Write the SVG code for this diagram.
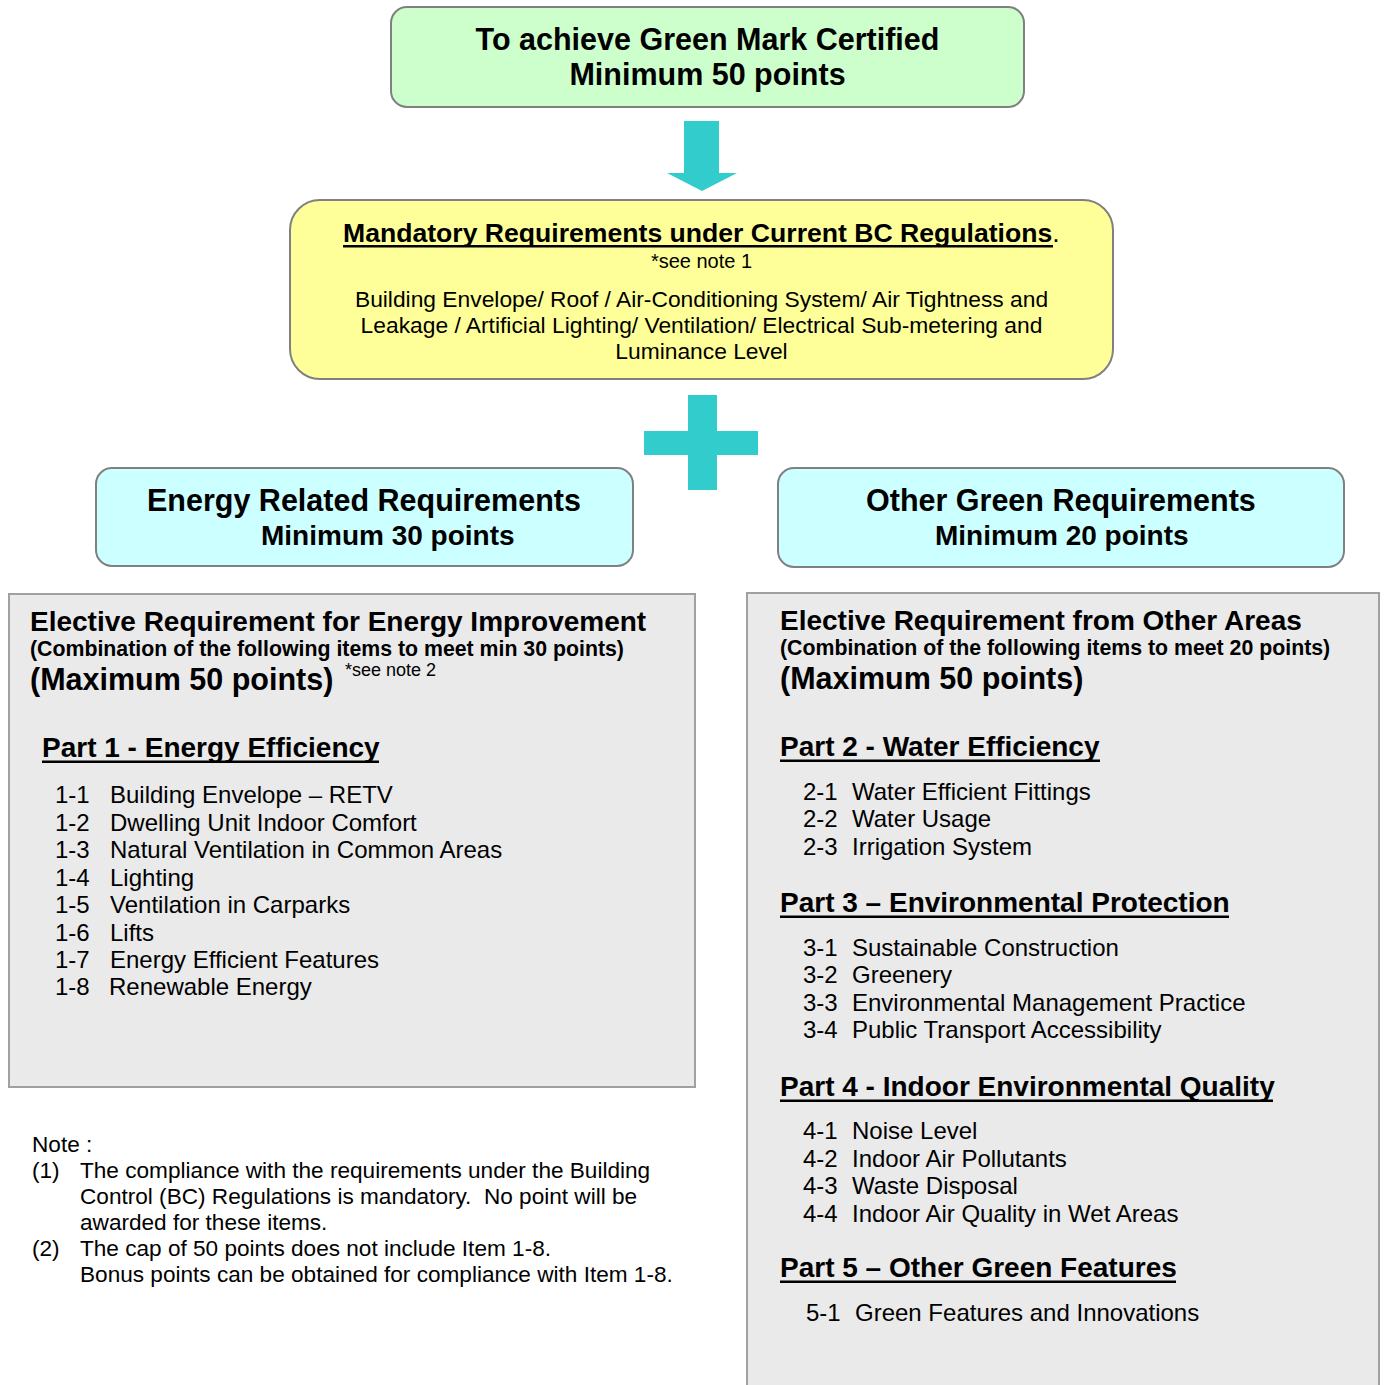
<svg xmlns="http://www.w3.org/2000/svg" width="1384" height="1385" viewBox="0 0 1384 1385">
<style>
  text { font-family: "Liberation Sans", Arial, sans-serif; fill: #000; }
  .b { font-weight: bold; }
  .box { stroke: #808080; stroke-width: 2; }
  .panel { fill: #eaeaea; stroke: #a0a0a0; stroke-width: 2; }
  .ul { fill: #000; }
  .item { font-size: 24px; }
  .part { font-size: 28px; font-weight: bold; }
  .note { font-size: 22.6px; white-space: pre; }
  .mid { text-anchor: middle; }
  .conn { fill: #33cccc; }
</style>
<rect width="1384" height="1385" fill="#ffffff"/>

<g id="goal">
  <rect class="box" x="391" y="7" width="633" height="100" rx="16" fill="#ccffcc"/>
  <text class="b mid" x="707.5" y="50" font-size="30.5">To achieve Green Mark Certified</text>
  <text class="b mid" x="707.5" y="85" font-size="30.5">Minimum 50 points</text>
</g>

<g id="connectors">
  <polygon class="conn" points="684,121 719,121 719,173 737,173 702,191 667,173 684,173"/>
  <rect class="conn" x="688" y="395" width="29" height="95"/>
  <rect class="conn" x="644" y="431" width="114" height="24"/>
</g>

<g id="mandatory">
  <rect class="box" x="290" y="200" width="823" height="179" rx="30" fill="#ffff99"/>
  <text x="343" y="242" font-size="26.6"><tspan class="b">Mandatory Requirements under Current BC Regulations</tspan><tspan>.</tspan></text>
  <rect class="ul" x="343" y="245" width="710" height="2.5"/>
  <text class="mid" x="701.5" y="268" font-size="20">*see note 1</text>
  <text class="mid" x="701.5" y="307" font-size="22.8">Building Envelope/ Roof / Air-Conditioning System/ Air Tightness and</text>
  <text class="mid" x="701.5" y="333" font-size="22.8">Leakage / Artificial Lighting/ Ventilation/ Electrical Sub-metering and</text>
  <text class="mid" x="701.5" y="359" font-size="22.8">Luminance Level</text>
</g>

<g id="energy-req">
  <rect class="box" x="96" y="468" width="537" height="98" rx="16" fill="#ccffff"/>
  <text class="b" x="147" y="511" font-size="30.5">Energy Related Requirements</text>
  <text class="b" x="261" y="545" font-size="28">Minimum 30 points</text>
</g>

<g id="other-req">
  <rect class="box" x="778" y="468" width="566" height="99" rx="16" fill="#ccffff"/>
  <text class="b" x="866" y="511" font-size="30.5">Other Green Requirements</text>
  <text class="b" x="935" y="545" font-size="28">Minimum 20 points</text>
</g>

<g id="energy-elective">
  <rect class="panel" x="9" y="594" width="686" height="493"/>
  <text class="b" x="30" y="631" font-size="28">Elective Requirement for Energy Improvement</text>
  <text class="b" x="30" y="656" font-size="21.3">(Combination of the following items to meet min 30 points)</text>
  <text class="b" x="30" y="690" font-size="30.5">(Maximum 50 points)</text>
  <text x="345" y="676" font-size="18">*see note 2</text>
  <text class="part" x="42" y="757">Part 1 - Energy Efficiency</text>
  <rect class="ul" x="42" y="760.5" width="337" height="2.5"/>
  <text class="item" x="55" y="803">1-1</text><text class="item" x="110" y="803">Building Envelope – RETV</text>
  <text class="item" x="55" y="831">1-2</text><text class="item" x="110" y="831">Dwelling Unit Indoor Comfort</text>
  <text class="item" x="55" y="858">1-3</text><text class="item" x="110" y="858">Natural Ventilation in Common Areas</text>
  <text class="item" x="55" y="886">1-4</text><text class="item" x="110" y="886">Lighting</text>
  <text class="item" x="55" y="913">1-5</text><text class="item" x="110" y="913">Ventilation in Carparks</text>
  <text class="item" x="55" y="941">1-6</text><text class="item" x="110" y="941">Lifts</text>
  <text class="item" x="55" y="968">1-7</text><text class="item" x="110" y="968">Energy Efficient Features</text>
  <text class="item" x="55" y="995">1-8</text><text class="item" x="109" y="995">Renewable Energy</text>
</g>

<g id="notes">
  <text class="note" x="32" y="1152">Note :</text>
  <text class="note" x="32" y="1178">(1)</text>
  <text class="note" x="80" y="1178">The compliance with the requirements under the Building</text>
  <text class="note" x="80" y="1204">Control (BC) Regulations is mandatory.  No point will be</text>
  <text class="note" x="80" y="1230">awarded for these items.</text>
  <text class="note" x="32" y="1256">(2)</text>
  <text class="note" x="80" y="1256">The cap of 50 points does not include Item 1-8.</text>
  <text class="note" x="80" y="1282">Bonus points can be obtained for compliance with Item 1-8.</text>
</g>

<g id="other-elective">
  <rect class="panel" x="747" y="593" width="632" height="820"/>
  <text class="b" x="780" y="630" font-size="28">Elective Requirement from Other Areas</text>
  <text class="b" x="780" y="655" font-size="21.3">(Combination of the following items to meet 20 points)</text>
  <text class="b" x="780" y="689" font-size="30.5">(Maximum 50 points)</text>

  <text class="part" x="780" y="756">Part 2 - Water Efficiency</text>
  <rect class="ul" x="780" y="759.5" width="320" height="2.5"/>
  <text class="item" x="803" y="800">2-1</text><text class="item" x="852" y="800">Water Efficient Fittings</text>
  <text class="item" x="803" y="827">2-2</text><text class="item" x="852" y="827">Water Usage</text>
  <text class="item" x="803" y="855">2-3</text><text class="item" x="852" y="855">Irrigation System</text>

  <text class="part" x="780" y="912">Part 3 – Environmental Protection</text>
  <rect class="ul" x="780" y="915.5" width="449" height="2.5"/>
  <text class="item" x="803" y="956">3-1</text><text class="item" x="852" y="956">Sustainable Construction</text>
  <text class="item" x="803" y="983">3-2</text><text class="item" x="852" y="983">Greenery</text>
  <text class="item" x="803" y="1011">3-3</text><text class="item" x="852" y="1011">Environmental Management Practice</text>
  <text class="item" x="803" y="1038">3-4</text><text class="item" x="852" y="1038">Public Transport Accessibility</text>

  <text class="part" x="780" y="1096">Part 4 - Indoor Environmental Quality</text>
  <rect class="ul" x="780" y="1099.5" width="493" height="2.5"/>
  <text class="item" x="803" y="1139">4-1</text><text class="item" x="852" y="1139">Noise Level</text>
  <text class="item" x="803" y="1167">4-2</text><text class="item" x="852" y="1167">Indoor Air Pollutants</text>
  <text class="item" x="803" y="1194">4-3</text><text class="item" x="852" y="1194">Waste Disposal</text>
  <text class="item" x="803" y="1222">4-4</text><text class="item" x="852" y="1222">Indoor Air Quality in Wet Areas</text>

  <text class="part" x="780" y="1277">Part 5 – Other Green Features</text>
  <rect class="ul" x="780" y="1280.5" width="396" height="2.5"/>
  <text class="item" x="806" y="1321">5-1</text><text class="item" x="855" y="1321">Green Features and Innovations</text>
</g>
</svg>
